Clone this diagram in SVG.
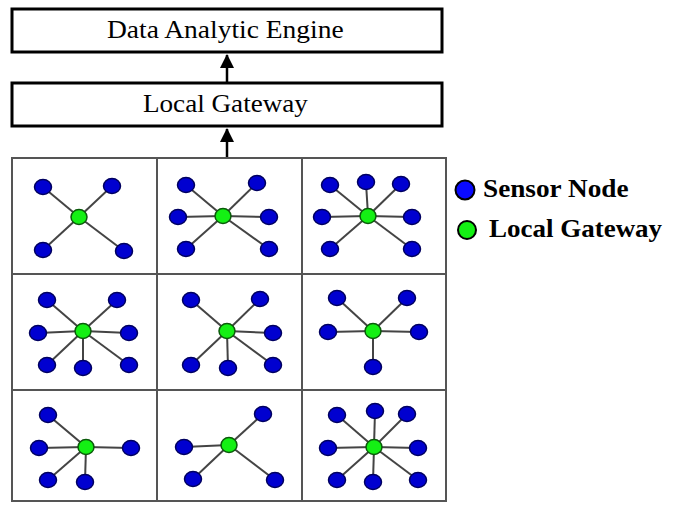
<svg xmlns="http://www.w3.org/2000/svg" width="679" height="506" viewBox="0 0 679 506">
<style>
.box{fill:#fff;stroke:#000;stroke-width:3}
.t{font-family:"Liberation Serif","Times New Roman",serif;font-size:25px;fill:#000}
.lg{font-family:"Liberation Serif","Times New Roman",serif;font-size:25px;font-weight:bold;fill:#000}
.grid{fill:none;stroke:#555;stroke-width:2}
.ln{stroke:#444;stroke-width:2}
.arr{stroke:#000;stroke-width:2.5;fill:none}
.s{fill:#0000d0;stroke:#000060;stroke-width:1.5}
.g{fill:#14f014;stroke:#0a5a0a;stroke-width:1.5}
.ls{fill:#0a0aff;stroke:#000;stroke-width:2}
.lgc{fill:#14f014;stroke:#000;stroke-width:2}
</style>
<defs>
<marker id="ah" viewBox="0 0 14 15" refX="14" refY="7.5" markerWidth="15" markerHeight="14" markerUnits="userSpaceOnUse" orient="auto">
<path d="M0,0 L15,7.5 L0,15 z" fill="#000"/>
</marker>
</defs>
<rect width="679" height="506" fill="#fff"/>
<g id="engine">
<rect class="box" x="12" y="9" width="430" height="43"/>
<text class="t" transform="translate(107,38) scale(1.1,1)">Data Analytic Engine</text>
</g>
<g id="gateway-box">
<rect class="box" x="12" y="83" width="430" height="43"/>
<text class="t" transform="translate(143,112) scale(1.085,1)">Local Gateway</text>
</g>
<g id="grid">
<rect class="grid" x="12" y="158" width="434" height="343"/>
<line class="grid" x1="157" y1="158" x2="157" y2="501"/>
<line class="grid" x1="302" y1="158" x2="302" y2="501"/>
<line class="grid" x1="12" y1="274" x2="446" y2="274"/>
<line class="grid" x1="12" y1="390" x2="446" y2="390"/>
</g>
<g id="connectors">
<line class="arr" x1="227" y1="83" x2="227" y2="55" marker-end="url(#ah)"/>
<line class="arr" x1="227" y1="157" x2="227" y2="129" marker-end="url(#ah)"/>
<g class="ln">
<line x1="79" y1="217" x2="43" y2="187"/><line x1="79" y1="217" x2="112" y2="186"/><line x1="79" y1="217" x2="43" y2="250"/><line x1="79" y1="217" x2="124" y2="251"/>
<line x1="223" y1="216" x2="186" y2="185"/><line x1="223" y1="216" x2="257" y2="183"/><line x1="223" y1="216" x2="178" y2="217"/><line x1="223" y1="216" x2="269" y2="217"/><line x1="223" y1="216" x2="186" y2="249"/><line x1="223" y1="216" x2="269" y2="249"/>
<line x1="368" y1="216" x2="330" y2="185"/><line x1="368" y1="216" x2="366" y2="182"/><line x1="368" y1="216" x2="401" y2="184"/><line x1="368" y1="216" x2="322" y2="217"/><line x1="368" y1="216" x2="412" y2="217"/><line x1="368" y1="216" x2="330" y2="249"/><line x1="368" y1="216" x2="412" y2="249"/>
<line x1="83" y1="331" x2="47" y2="300"/><line x1="83" y1="331" x2="117" y2="300"/><line x1="83" y1="331" x2="38" y2="333"/><line x1="83" y1="331" x2="129" y2="333"/><line x1="83" y1="331" x2="47" y2="365"/><line x1="83" y1="331" x2="83" y2="368"/><line x1="83" y1="331" x2="129" y2="365"/>
<line x1="227" y1="331" x2="191" y2="300"/><line x1="227" y1="331" x2="260" y2="299"/><line x1="227" y1="331" x2="273" y2="333"/><line x1="227" y1="331" x2="191" y2="365"/><line x1="227" y1="331" x2="228" y2="368"/><line x1="227" y1="331" x2="273" y2="365"/>
<line x1="373" y1="331" x2="337" y2="298"/><line x1="373" y1="331" x2="407" y2="298"/><line x1="373" y1="331" x2="328" y2="332"/><line x1="373" y1="331" x2="419" y2="332"/><line x1="373" y1="331" x2="373" y2="367"/>
<line x1="86" y1="447" x2="48" y2="415"/><line x1="86" y1="447" x2="39" y2="448"/><line x1="86" y1="447" x2="131" y2="448"/><line x1="86" y1="447" x2="48" y2="480"/><line x1="86" y1="447" x2="85" y2="482"/>
<line x1="229" y1="445" x2="263" y2="414"/><line x1="229" y1="445" x2="184" y2="447"/><line x1="229" y1="445" x2="193" y2="479"/><line x1="229" y1="445" x2="275" y2="480"/>
<line x1="374" y1="447" x2="337" y2="415"/><line x1="374" y1="447" x2="375" y2="411"/><line x1="374" y1="447" x2="407" y2="414"/><line x1="374" y1="447" x2="328" y2="448"/><line x1="374" y1="447" x2="418" y2="448"/><line x1="374" y1="447" x2="337" y2="480"/><line x1="374" y1="447" x2="373" y2="482"/><line x1="374" y1="447" x2="418" y2="480"/>
</g>
</g>
<g id="cell1">
<ellipse class="s" cx="43" cy="187" rx="8.5" ry="7.5"/><ellipse class="s" cx="112" cy="186" rx="8.5" ry="7.5"/><ellipse class="s" cx="43" cy="250" rx="8.5" ry="7.5"/><ellipse class="s" cx="124" cy="251" rx="8.5" ry="7.5"/>
<ellipse class="g" cx="79" cy="217" rx="8" ry="7.5"/>
</g>
<g id="cell2">
<ellipse class="s" cx="186" cy="185" rx="8.5" ry="7.5"/><ellipse class="s" cx="257" cy="183" rx="8.5" ry="7.5"/><ellipse class="s" cx="178" cy="217" rx="8.5" ry="7.5"/><ellipse class="s" cx="269" cy="217" rx="8.5" ry="7.5"/><ellipse class="s" cx="186" cy="249" rx="8.5" ry="7.5"/><ellipse class="s" cx="269" cy="249" rx="8.5" ry="7.5"/>
<ellipse class="g" cx="223" cy="216" rx="8" ry="7.5"/>
</g>
<g id="cell3">
<ellipse class="s" cx="330" cy="185" rx="8.5" ry="7.5"/><ellipse class="s" cx="366" cy="182" rx="8.5" ry="7.5"/><ellipse class="s" cx="401" cy="184" rx="8.5" ry="7.5"/><ellipse class="s" cx="322" cy="217" rx="8.5" ry="7.5"/><ellipse class="s" cx="412" cy="217" rx="8.5" ry="7.5"/><ellipse class="s" cx="330" cy="249" rx="8.5" ry="7.5"/><ellipse class="s" cx="412" cy="249" rx="8.5" ry="7.5"/>
<ellipse class="g" cx="368" cy="216" rx="8" ry="7.5"/>
</g>
<g id="cell4">
<ellipse class="s" cx="47" cy="300" rx="8.5" ry="7.5"/><ellipse class="s" cx="117" cy="300" rx="8.5" ry="7.5"/><ellipse class="s" cx="38" cy="333" rx="8.5" ry="7.5"/><ellipse class="s" cx="129" cy="333" rx="8.5" ry="7.5"/><ellipse class="s" cx="47" cy="365" rx="8.5" ry="7.5"/><ellipse class="s" cx="83" cy="368" rx="8.5" ry="7.5"/><ellipse class="s" cx="129" cy="365" rx="8.5" ry="7.5"/>
<ellipse class="g" cx="83" cy="331" rx="8" ry="7.5"/>
</g>
<g id="cell5">
<ellipse class="s" cx="191" cy="300" rx="8.5" ry="7.5"/><ellipse class="s" cx="260" cy="299" rx="8.5" ry="7.5"/><ellipse class="s" cx="273" cy="333" rx="8.5" ry="7.5"/><ellipse class="s" cx="191" cy="365" rx="8.5" ry="7.5"/><ellipse class="s" cx="228" cy="368" rx="8.5" ry="7.5"/><ellipse class="s" cx="273" cy="365" rx="8.5" ry="7.5"/>
<ellipse class="g" cx="227" cy="331" rx="8" ry="7.5"/>
</g>
<g id="cell6">
<ellipse class="s" cx="337" cy="298" rx="8.5" ry="7.5"/><ellipse class="s" cx="407" cy="298" rx="8.5" ry="7.5"/><ellipse class="s" cx="328" cy="332" rx="8.5" ry="7.5"/><ellipse class="s" cx="419" cy="332" rx="8.5" ry="7.5"/><ellipse class="s" cx="373" cy="367" rx="8.5" ry="7.5"/>
<ellipse class="g" cx="373" cy="331" rx="8" ry="7.5"/>
</g>
<g id="cell7">
<ellipse class="s" cx="48" cy="415" rx="8.5" ry="7.5"/><ellipse class="s" cx="39" cy="448" rx="8.5" ry="7.5"/><ellipse class="s" cx="131" cy="448" rx="8.5" ry="7.5"/><ellipse class="s" cx="48" cy="480" rx="8.5" ry="7.5"/><ellipse class="s" cx="85" cy="482" rx="8.5" ry="7.5"/>
<ellipse class="g" cx="86" cy="447" rx="8" ry="7.5"/>
</g>
<g id="cell8">
<ellipse class="s" cx="263" cy="414" rx="8.5" ry="7.5"/><ellipse class="s" cx="184" cy="447" rx="8.5" ry="7.5"/><ellipse class="s" cx="193" cy="479" rx="8.5" ry="7.5"/><ellipse class="s" cx="275" cy="480" rx="8.5" ry="7.5"/>
<ellipse class="g" cx="229" cy="445" rx="8" ry="7.5"/>
</g>
<g id="cell9">
<ellipse class="s" cx="337" cy="415" rx="8.5" ry="7.5"/><ellipse class="s" cx="375" cy="411" rx="8.5" ry="7.5"/><ellipse class="s" cx="407" cy="414" rx="8.5" ry="7.5"/><ellipse class="s" cx="328" cy="448" rx="8.5" ry="7.5"/><ellipse class="s" cx="418" cy="448" rx="8.5" ry="7.5"/><ellipse class="s" cx="337" cy="480" rx="8.5" ry="7.5"/><ellipse class="s" cx="373" cy="482" rx="8.5" ry="7.5"/><ellipse class="s" cx="418" cy="480" rx="8.5" ry="7.5"/>
<ellipse class="g" cx="374" cy="447" rx="8" ry="7.5"/>
</g>
<g id="legend-sensor">
<circle class="ls" cx="465" cy="190" r="9.5"/>
<text class="lg" transform="translate(483,197) scale(1.09,1)">Sensor Node</text>
</g>
<g id="legend-gateway">
<circle class="lgc" cx="467" cy="230" r="9"/>
<text class="lg" transform="translate(489,237) scale(1.08,1)">Local Gateway</text>
</g>
</svg>
